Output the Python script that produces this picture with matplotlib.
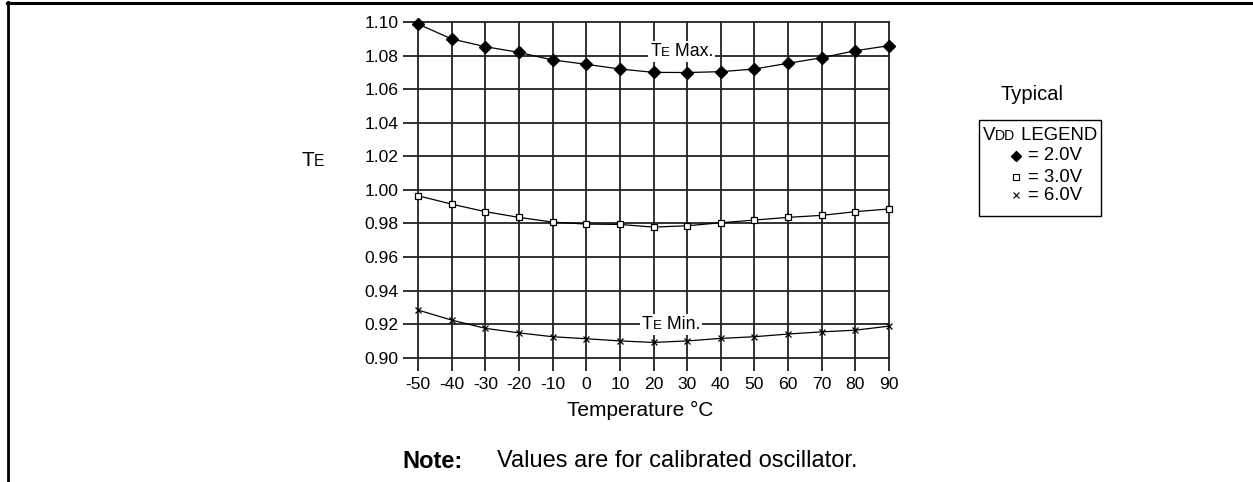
import numpy as np
import matplotlib
matplotlib.use('Agg')
from matplotlib import pyplot as plt
from matplotlib.lines import Line2D
from matplotlib.patches import Rectangle
from matplotlib.offsetbox import TextArea, HPacker, AnnotationBbox

plt.rcParams['font.family'] = ['Liberation Sans', 'DejaVu Sans']
plt.rcParams['axes.unicode_minus'] = False

temps = [-50, -40, -30, -20, -10, 0, 10, 20, 30, 40, 50, 60, 70, 80, 90]
te_2v = [1.0988, 1.0899, 1.0853, 1.0819, 1.0774, 1.0748, 1.0720, 1.0700, 1.0699, 1.0704,
         1.0720, 1.0754, 1.0787, 1.0829, 1.0859]
te_3v = [0.9965, 0.9915, 0.9870, 0.9836, 0.9808, 0.9796, 0.9794, 0.9778, 0.9786, 0.9804,
         0.9820, 0.9836, 0.9848, 0.9870, 0.9886]
te_6v = [0.9284, 0.9224, 0.9175, 0.9148, 0.9125, 0.9113, 0.9100, 0.9091, 0.9100, 0.9115,
         0.9125, 0.9141, 0.9154, 0.9164, 0.9188]
yticks = [0.90, 0.92, 0.94, 0.96, 0.98, 1.00, 1.02, 1.04, 1.06, 1.08, 1.10]
xtick_labels = ['-50', '-40', '-30', '-20', '-10', '0', '10', '20', '30', '40', '50', '60', '70', '80', '90']
legend_labels = ['= 2.0V', '= 3.0V', '= 6.0V']

W, H = 1253, 482
fig = plt.figure(figsize=(W/100, H/100), dpi=100)
fx = lambda x: x/W
fy = lambda y: 1-y/H

# frame around the figure (open at the bottom and right)
fig.add_artist(Line2D([fx(7), fx(1252)], [fy(3), fy(3)], color='black', lw=2.2, transform=fig.transFigure))
fig.add_artist(Line2D([fx(8), fx(8)], [fy(2), fy(482)], color='black', lw=2.0, transform=fig.transFigure))

ax = fig.add_axes([fx(418), fy(357.7), fx(889)-fx(418), fy(22)-fy(357.7)])
gc = '#222222'
ax.plot(temps, te_2v, color='black', lw=0.9, marker='D', ms=6.3, mfc='black', mec='black', zorder=3, clip_on=False)
ax.plot(temps, te_3v, color='black', lw=0.9, marker='s', ms=5, mfc='white', mec='black', mew=0.9, zorder=3, clip_on=False)
ax.plot(temps, te_6v, color='black', lw=0.9, marker='x', ms=5, mec='black', mew=0.9, zorder=3, clip_on=False)
ax.set_xlim(-50, 90)
ax.set_ylim(0.90, 1.10)
ax.set_xticks(temps)
ax.set_xticklabels(xtick_labels)
ax.set_yticks(yticks)
ax.set_yticklabels(['%.2f' % v for v in yticks])
for s in ax.spines.values():
    s.set_visible(False)
ax.grid(True, color=gc, lw=1.3)
ax.set_axisbelow(True)
ax.tick_params(axis='y', length=11, width=1.3, color=gc, pad=3, labelsize=12.6)
ax.tick_params(axis='x', length=9, width=1.3, color=gc, pad=5, labelsize=12.6)
for t in ax.get_xgridlines()+ax.get_ygridlines():
    t.set_clip_on(False)

def sc_box(parts, big=12.8, weight='normal'):
    kids = [TextArea(t, textprops=dict(size=big if b else big*0.75, weight=weight)) for t, b in parts]
    return HPacker(children=kids, align='baseline', pad=0, sep=0)

def label_on(xy, parts, big=12.8, coords='data', bg=True, align=(0.5, 0.5)):
    ab = AnnotationBbox(sc_box(parts, big), xy, xycoords=coords, box_alignment=align,
                        frameon=bg, pad=0.15, bboxprops=dict(fc='white', ec='none'))
    ab.set_zorder(4)
    return ab

ax.add_artist(label_on((28.4, 1.0823), [('T', 1), ('E', 0), (' Max.', 1)]))
ax.add_artist(label_on((25.2, 0.9200), [('T', 1), ('E', 0), (' Min.', 1)]))

fig.add_artist(label_on((fx(301), fy(161)), [('T', 1), ('E', 0)], big=15,
                        coords='figure fraction', bg=False, align=(0, 0.5)))

fig.text(fx(640), fy(410), 'Temperature °C', ha='center', va='center', size=15)
fig.text(fx(402), fy(461), 'Note:', ha='left', va='center', size=17, weight='bold')
fig.text(fx(497), fy(461), 'Values are for calibrated oscillator.', ha='left', va='center', size=17)

# legend
fig.text(fx(1032), fy(95), 'Typical', ha='center', va='center', size=14.5)
fig.add_artist(Rectangle((fx(979), fy(216)), fx(1101)-fx(979), fy(120)-fy(216), fill=False,
                         ec='black', lw=1.0, transform=fig.transFigure))
fig.add_artist(label_on((fx(983), fy(136)), [('V', 1), ('DD', 0), (' LEGEND', 1)], big=13.4,
                        coords='figure fraction', bg=False, align=(0, 0.5)))
leg_markers = [dict(marker='D', ms=5.5, mfc='black', mec='black'),
               dict(marker='s', ms=4.5, mfc='white', mec='black', mew=0.8),
               dict(marker='x', ms=4.5, mec='black', mew=0.8)]
for lab, mk, yy in zip(legend_labels, leg_markers, [156, 177, 195]):
    fig.add_artist(Line2D([fx(1016)], [fy(yy)], lw=0, transform=fig.transFigure, **mk))
    fig.text(fx(1028), fy(yy), lab, ha='left', va='center', size=13.3)

fig.savefig('out.png', dpi=100)
